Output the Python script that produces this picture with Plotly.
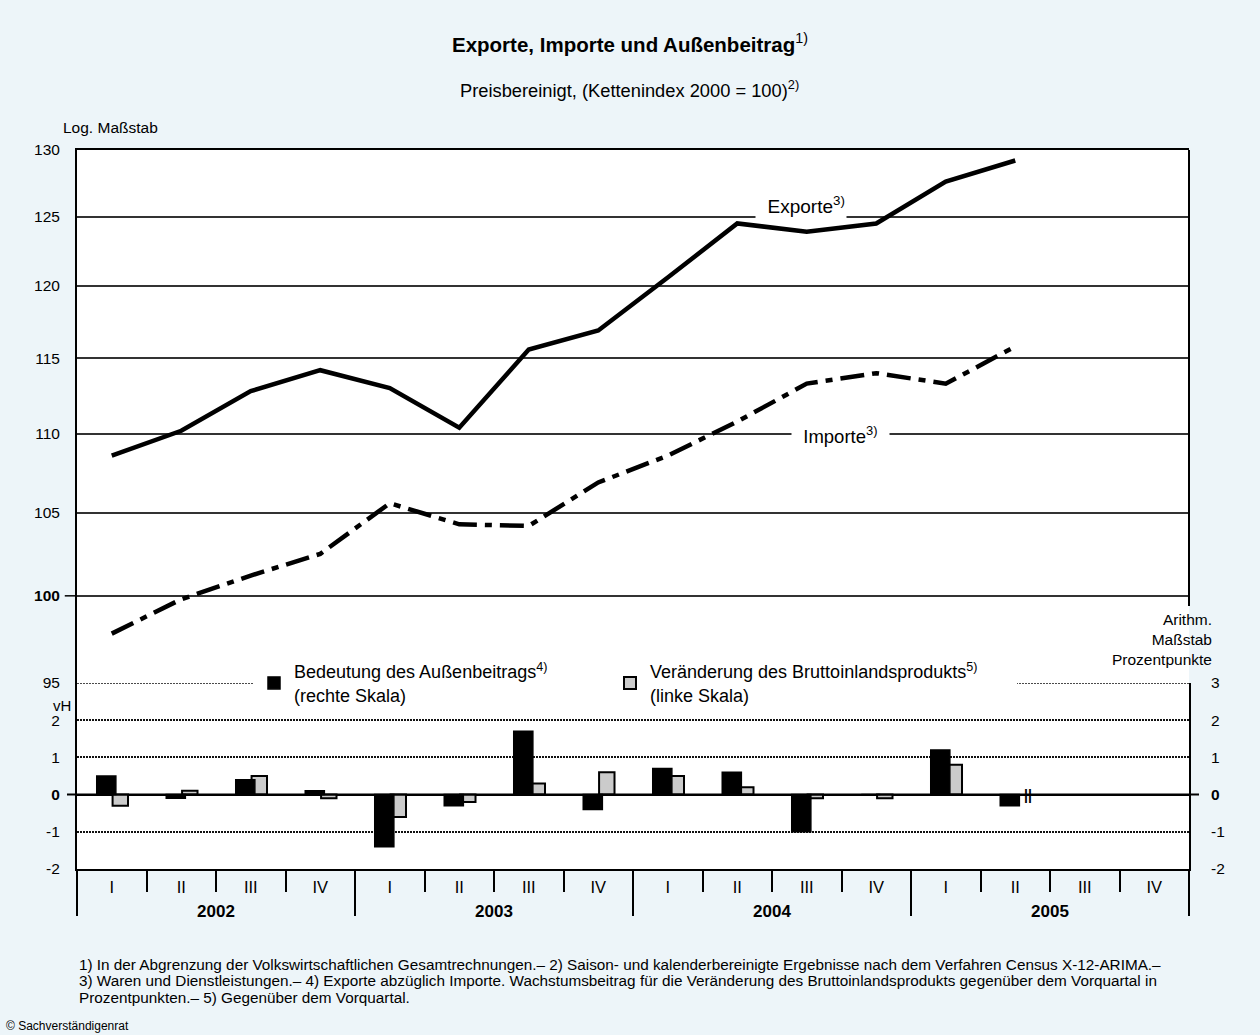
import numpy as np
import plotly.graph_objects as go

# ---------------- data ----------------
years = ["2002", "2003", "2004", "2005"]
quarter_names = ["I", "II", "III", "IV"]
quarters = [q for y in years for q in quarter_names]          # 16 category slots
exporte = [108.6, 110.2, 112.8, 114.2, 113.0, 110.4, 115.6, 116.9,
           120.6, 124.5, 123.9, 124.5, 127.6, 129.2]
importe = [97.8, 99.8, 101.2, 102.5, 105.6, 104.3, 104.2, 106.9,
           108.6, 110.8, 113.3, 114.0, 113.3, 115.8]
aussenbeitrag = [0.5, -0.1, 0.4, 0.1, -1.4, -0.3, 1.7, -0.4,
                 0.7, 0.6, -1.0, 0.0, 1.2, -0.3]            # rechte Skala
bip = [-0.3, 0.1, 0.5, -0.1, -0.6, -0.2, 0.3, 0.6,
       0.5, 0.2, -0.1, -0.1, 0.8, None]                      # linke Skala
log_ticks = [95, 100, 105, 110, 115, 120, 125, 130]
pp_ticks = [-2, -1, 0, 1, 2, 3]

FONT = "Liberation Sans, Arial, sans-serif"
BG = "#EDF5F9"
n_slots = len(quarters)
xc = [i + 0.5 for i in range(len(exporte))]
split = 0.2587  # domain border between the panels

fig = go.Figure()

# lines (upper panel, log scale)
fig.add_trace(go.Scatter(x=xc, y=exporte, mode="lines", xaxis="x", yaxis="y",
                         line=dict(color="black", width=4.5), showlegend=False,
                         hoverinfo="skip"))
fig.add_trace(go.Scatter(x=xc, y=importe, mode="lines", xaxis="x", yaxis="y",
                         line=dict(color="black", width=4.5, dash="24px,8px,7px,8px"),
                         showlegend=False, hoverinfo="skip"))

# bars (lower panel)
fig.add_trace(go.Bar(x=xc, y=aussenbeitrag, xaxis="x2", yaxis="y3", legend="legend",
                     name="Bedeutung des Außenbeitrags<sup>4)</sup><br>(rechte Skala)",
                     marker=dict(color="black", line=dict(color="black", width=1.5)),
                     offset=-0.216, width=0.275, hoverinfo="skip"))
fig.add_trace(go.Bar(x=xc, y=bip, xaxis="x2", yaxis="y2", legend="legend2",
                     name="Veränderung des Bruttoinlandsprodukts<sup>5)</sup><br>(linke Skala)",
                     marker=dict(color="#CBCBCB", line=dict(color="black", width=2)),
                     offset=0.012, width=0.222, hoverinfo="skip"))

# empty helper traces so the overlay axes exist
fig.add_trace(go.Scatter(x=[None], y=[None], xaxis="x3", yaxis="y2", showlegend=False, hoverinfo="skip"))
fig.add_trace(go.Scatter(x=[None], y=[None], xaxis="x4", yaxis="y2", showlegend=False, hoverinfo="skip"))

tickfont = dict(family=FONT, size=15.5, color="black")
legfont = dict(family=FONT, size=18, color="black")

fig.update_layout(
    width=1260, height=1035,
    margin=dict(l=77, r=71, t=150, b=166),
    paper_bgcolor=BG, plot_bgcolor="white",
    font=dict(family=FONT, color="black"),
    barmode="overlay",
    showlegend=True,
    legend=dict(orientation="h", x=(254 - 77) / 1112, xanchor="left", y=split, yanchor="middle",
                bgcolor="white", font=legfont, entrywidth=380, entrywidthmode="pixels",
                valign="middle", itemclick=False, itemdoubleclick=False),
    legend2=dict(orientation="h", x=(610 - 77) / 1112, xanchor="left", y=split, yanchor="middle",
                 bgcolor="white", font=legfont, entrywidth=362, entrywidthmode="pixels",
                 valign="middle", itemclick=False, itemdoubleclick=False),
    xaxis=dict(domain=[0, 1], range=[0, n_slots], anchor="y", side="top",
               showline=True, linecolor="black", linewidth=2, showgrid=False,
               showticklabels=False, ticks="", zeroline=False, fixedrange=True),
    yaxis=dict(domain=[split, 1], type="log", range=[np.log10(95), np.log10(130)],
               tickvals=log_ticks,
               ticktext=[("<b>%d</b>" % v) if v == 100 else str(v) for v in log_ticks],
               showline=True, mirror=False, linecolor="black", linewidth=2,
               showgrid=True, gridcolor="#333333", gridwidth=1.5,
               ticks="outside", ticklen=12, tickcolor="rgba(0,0,0,0)",
               tickfont=tickfont, zeroline=False, fixedrange=True),
    xaxis2=dict(domain=[0, 1], range=[0, n_slots], anchor="y2",
                tickmode="array", tickvals=[i + 0.5 for i in range(n_slots)], ticktext=quarters,
                ticks="outside", ticklen=2, tickcolor="rgba(0,0,0,0)",
                tickfont=dict(family=FONT, size=16.5, color="black"),
                minor=dict(tickmode="array", tickvals=list(range(n_slots + 1)),
                           ticks="outside", ticklen=21, tickwidth=1.5, tickcolor="black",
                           showgrid=False),
                showline=True, linecolor="black", linewidth=2, showgrid=False,
                zeroline=False, fixedrange=True),
    xaxis3=dict(overlaying="x2", anchor="y2", range=[0, n_slots], side="bottom",
                tickmode="array", tickvals=list(range(0, n_slots + 1, 4)),
                ticks="outside", ticklen=46, tickwidth=1.5, tickcolor="black",
                showticklabels=False, showgrid=False, showline=False, zeroline=False,
                fixedrange=True),
    xaxis4=dict(overlaying="x2", anchor="y2", range=[0, n_slots], side="bottom",
                tickmode="array", tickvals=[2 + 4 * i for i in range(len(years))],
                ticktext=["<b>%s</b>" % y for y in years],
                ticks="outside", ticklen=27, tickcolor="rgba(0,0,0,0)",
                tickfont=dict(family=FONT, size=17, color="black"),
                showgrid=False, showline=False, zeroline=False, fixedrange=True),
    yaxis2=dict(domain=[0, split], anchor="x2", range=[-2, 3],
                tickmode="array", tickvals=pp_ticks[:-1],
                ticktext=[("<b>%d</b>" % v) if v == 0 else str(v) for v in pp_ticks[:-1]],
                showline=True, mirror=True, linecolor="black", linewidth=2,
                showgrid=False, zeroline=False,
                ticks="outside", ticklen=12, tickcolor="rgba(0,0,0,0)",
                tickfont=tickfont, fixedrange=True),
    yaxis3=dict(overlaying="y2", anchor="x2", side="right", range=[-2, 3],
                tickmode="array", tickvals=pp_ticks,
                ticktext=[("<b>%d</b>" % v) if v == 0 else str(v) for v in pp_ticks],
                showline=False, showgrid=True, gridcolor="#111111", gridwidth=1.5,
                griddash="2px,1px",
                zeroline=True, zerolinecolor="black", zerolinewidth=2,
                ticks="outside", ticklen=18, tickcolor="rgba(0,0,0,0)",
                tickfont=tickfont, fixedrange=True),
)

# right frame of the upper panel (interrupted by the right-hand axis caption)
y_caption_top = (869 - 606) / 719
fig.add_shape(type="line", xref="paper", yref="paper", x0=1, x1=1, y0=y_caption_top, y1=1,
              line=dict(color="black", width=2), layer="above")
# panel border line at 95 / 3 (partly hidden behind the legend boxes)
fig.add_shape(type="line", xref="paper", yref="y2", x0=0, x1=1, y0=3, y1=3,
              line=dict(color="#111111", width=1.5, dash="2px,1px"), layer="above")
# small outside ticks at the emphasised values (100 and 0)
y100 = split + (np.log10(100) - np.log10(95)) / (np.log10(130) - np.log10(95)) * (1 - split)
fig.add_shape(type="line", xref="paper", yref="paper", x0=-0.011, x1=0, y0=y100, y1=y100,
              line=dict(color="black", width=1.5))
fig.add_shape(type="line", xref="paper", yref="y2", x0=-0.009, x1=1.009, y0=0, y1=0,
              line=dict(color="black", width=2), layer="above")

ann = []
# titles
ann.append(dict(text="<b>Exporte, Importe und Außenbeitrag</b><sup>1)</sup>", xref="paper", yref="paper",
                x=0.4973, y=(869 - 43) / 719, xanchor="center", yanchor="middle", showarrow=False,
                font=dict(family=FONT, size=20.5, color="black")))
ann.append(dict(text="Preisbereinigt, (Kettenindex 2000 = 100)<sup>2)</sup>", xref="paper", yref="paper",
                x=0.4973, y=(869 - 89) / 719, xanchor="center", yanchor="middle", showarrow=False,
                font=dict(family=FONT, size=18.3, color="black")))
ann.append(dict(text="Log. Maßstab", xref="paper", yref="paper", x=(61 - 77) / 1112,
                y=(869 - 128) / 719, xanchor="left", yanchor="middle", showarrow=False,
                font=dict(family=FONT, size=15.5, color="black")))
ann.append(dict(text="vH", xref="paper", yref="paper", x=(73 - 77) / 1112,
                y=(869 - 705) / 719, xanchor="right", yanchor="middle", showarrow=False,
                font=dict(family=FONT, size=15, color="black")))
ann.append(dict(text="Arithm.<br>Maßstab<br>Prozentpunkte", xref="paper", yref="paper",
                x=(1214 - 77) / 1112, y=(869 - 639) / 719, xanchor="right", yanchor="middle",
                align="right", showarrow=False, font=dict(family=FONT, size=15.5, color="black")))
# series labels
ann.append(dict(text="  Exporte<sup>3)</sup>", xref="x", yref="y", x=10.42, y=np.log10(125),
                yshift=12, showarrow=False, bgcolor="white", borderpad=1,
                font=dict(family=FONT, size=19, color="black")))
ann.append(dict(text="  Importe<sup>3)</sup>  ", xref="x", yref="y", x=10.98, y=np.log10(110),
                yshift=-1, showarrow=False, bgcolor="white", borderpad=1,
                font=dict(family=FONT, size=18.5, color="black")))
# break mark after the last available quarter of the gray series
last_q = len(exporte) - 1
ann.append(dict(text="<b>||</b>", xref="x2", yref="y2", x=xc[last_q], y=0, xshift=13,
                showarrow=False, font=dict(family=FONT, size=14, color="black")))
# footnotes
foot_lines = [
    "1) In der Abgrenzung der Volkswirtschaftlichen Gesamtrechnungen.– 2) Saison- und kalenderbereinigte "
    "Ergebnisse nach dem Verfahren Census X-12-ARIMA.–",
    "3) Waren und Dienstleistungen.– 4) Exporte abzüglich Importe. Wachstumsbeitrag für die Veränderung "
    "des Bruttoinlandsprodukts gegenüber dem Vorquartal in",
    "Prozentpunkten.– 5) Gegenüber dem Vorquartal.",
]
foot_y = [964, 980.5, 997]
for line, ypx in zip(foot_lines, foot_y):
    ann.append(dict(text=line, xref="paper", yref="paper", x=0, y=(869 - ypx) / 719,
                    xanchor="left", yanchor="middle", align="left", showarrow=False,
                    font=dict(family=FONT, size=15.3, color="black")))
ann.append(dict(text="© Sachverständigenrat", xref="paper", yref="paper", x=(4 - 77) / 1112,
                y=(869 - 1026) / 719, xanchor="left", yanchor="middle", showarrow=False,
                font=dict(family=FONT, size=12, color="black")))
fig.update_layout(annotations=ann)

fig.write_html("out.html", config={"displayModeBar": False},
               post_script="document.body.style.margin='0px';document.body.style.padding='0px';")
